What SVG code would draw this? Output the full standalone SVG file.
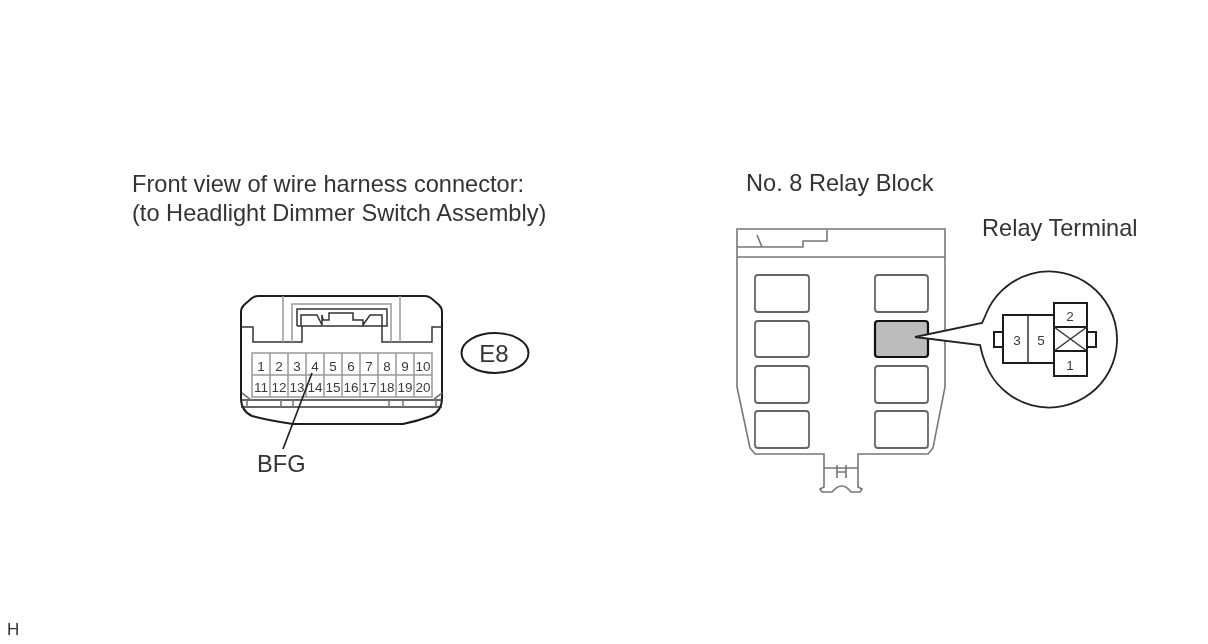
<svg xmlns="http://www.w3.org/2000/svg" width="1208" height="644" viewBox="0 0 1208 644">
<style>
text{font-family:"Liberation Sans",Arial,sans-serif;fill:#333}
.t{font-size:23.6px}
.n{font-size:13.5px;text-anchor:middle;fill:#3a3a3a}
.l{fill:none;stroke:#333;stroke-width:1.5}
.g{fill:none;stroke:#777;stroke-width:1.6}
.q{fill:none;stroke:#999;stroke-width:1.5}
.b{fill:none;stroke:#1c1c1c;stroke-width:2}
.box{fill:#fff;stroke:#666;stroke-width:1.8}
</style>
<defs><filter id="soft" x="0" y="0" width="100%" height="100%" color-interpolation-filters="sRGB"><feGaussianBlur stdDeviation="0.45"/></filter></defs>
<rect width="1208" height="644" fill="#fff"/>
<g filter="url(#soft)">
<g id="caption-left"><text class="t" x="132" y="192">Front view of wire harness connector:</text><text class="t" x="132" y="221">(to Headlight Dimmer Switch Assembly)</text></g>
<g id="caption-right"><text class="t" x="746" y="191">No. 8 Relay Block</text><text class="t" x="982" y="236">Relay Terminal</text></g>
<g id="connector-E8">
<path class="b" d="M258 296H425Q428 296 431 298L439 305Q442 308 442 312V398Q442 411 431 416Q418 421 403 424H293Q270 421 252 416Q241 411 241 398V312Q241 308 244 305L252 298Q255 296 258 296Z"/>
<path class="l" d="M241 327H253V342H302V326M382 326V342H432V327H442"/>
<path class="q" d="M283 296V342M400 296V342M292 342V304H391V342"/>
<path class="l" d="M297 326V309H387V326H297M301 326V315H317L322 325V315L323 320H329V313H353V320H363V325L370 315H382V326"/>
<path class="l" d="M241 400H442M241 407H442"/>
<path class="g" d="M242 393L251 400M442 393L433 400M247 400V407M436 400V407M281 400V407M293 400V407M389 400V407M403 400V407"/>
<path class="q" d="M252 353H432V397H252ZM252 375H432M270 353V397M288 353V397M306 353V397M324 353V397M342 353V397M360 353V397M378 353V397M396 353V397M414 353V397"/>
<g class="n"><text class="n" x="261" y="371">1</text><text class="n" x="279" y="371">2</text><text class="n" x="297" y="371">3</text><text class="n" x="315" y="371">4</text><text class="n" x="333" y="371">5</text><text class="n" x="351" y="371">6</text><text class="n" x="369" y="371">7</text><text class="n" x="387" y="371">8</text><text class="n" x="405" y="371">9</text><text class="n" x="423" y="371">10</text>
<text class="n" x="261" y="392">11</text><text class="n" x="279" y="392">12</text><text class="n" x="297" y="392">13</text><text class="n" x="315" y="392">14</text><text class="n" x="333" y="392">15</text><text class="n" x="351" y="392">16</text><text class="n" x="369" y="392">17</text><text class="n" x="387" y="392">18</text><text class="n" x="405" y="392">19</text><text class="n" x="423" y="392">20</text></g>
</g>
<g id="badge-E8"><ellipse class="b" cx="495" cy="353" rx="33.500" ry="20"/><text x="494" y="362" font-size="24" text-anchor="middle">E8</text></g>
<g id="label-BFG"><text class="t" x="257" y="472">BFG</text></g>
<g id="connectors"><path d="M312 373L283 449" fill="none" stroke="#222" stroke-width="1.700"/></g>
<g id="relay-block">
<path class="g" d="M737 257V229H945V387L933 448L928 454H858V468V487L862 489L860 492H851Q842 480 832 492H822L820 489L824 487V454H755L750 448L737 387V257H945"/>
<path class="g" d="M737 247H762L757 235M762 247H803V241H827V230M824 468H858M837 465V478M846 465V478M837 472H846"/>
<rect id="slot-1" class="box" x="755" y="275" width="54" height="37" rx="3"/>
<rect id="slot-2" class="box" x="755" y="321" width="54" height="36" rx="3"/>
<rect id="slot-3" class="box" x="755" y="366" width="54" height="37" rx="3"/>
<rect id="slot-4" class="box" x="755" y="411" width="54" height="37" rx="3"/>
<rect id="slot-5" class="box" x="875" y="275" width="53" height="37" rx="3"/>
<rect id="slot-6" x="875" y="321" width="53" height="36" rx="3" fill="#bcbcbc" stroke="#111" stroke-width="2.200"/>
<rect id="slot-7" class="box" x="875" y="366" width="53" height="37" rx="3"/>
<rect id="slot-8" class="box" x="875" y="411" width="53" height="37" rx="3"/>
</g>
<g id="relay-terminal">
<path d="M915 337L982 323Q984 319 986 314A68 68 0 1 1 986 365Q982 355 980 345Z" fill="#fff" stroke="#222" stroke-width="1.800"/>
<path class="b" d="M1003 315H1054V363H1003ZM1054 303H1087V376H1054ZM1054 327H1087M1054 351H1087M994 332H1003V347H994ZM1087 332H1096V347H1087Z"/>
<path class="l" d="M1028 315V363M1054 327L1087 351M1087 327L1054 351"/>
<text class="n" x="1017" y="345">3</text><text class="n" x="1041" y="345">5</text><text class="n" x="1070" y="321">2</text><text class="n" x="1070" y="370">1</text>
</g>
<g id="corner-mark"><text x="7" y="635" font-size="17">H</text></g>
</g>
</svg>
